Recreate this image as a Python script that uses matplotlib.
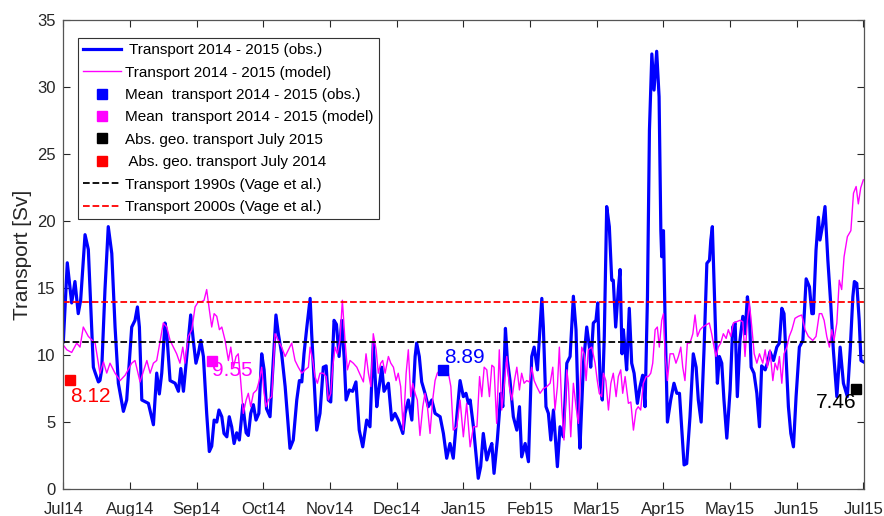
import numpy as np
import matplotlib
matplotlib.use('Agg')
import matplotlib.pyplot as plt

plt.rcParams['font.family'] = ['Liberation Sans', 'DejaVu Sans']

# month labels, one tick per month from Jul 2014 to Jul 2015
months = ['Jul14', 'Aug14', 'Sep14', 'Oct14', 'Nov14', 'Dec14', 'Jan15',
          'Feb15', 'Mar15', 'Apr15', 'May15', 'Jun15', 'Jul15']

# observed transport [Sv], day since 1 Jul 2014
obs_day = [0, 1.8, 3.8, 5.3, 6.8, 7.9, 9.9, 11.4, 13.7, 14.5, 16.0, 16.7, 17.5, 19.0, 20.5,
           22.1, 23.6, 25.1, 27.4, 28.9, 31.2, 32.7, 33.8, 34.7, 35.8, 38.8, 41.1, 42.6,
           43.8, 44.9, 46.4, 47.2, 48.7, 51.0, 52.5, 53.6, 54.8, 56.3, 58.1, 59.3, 60.5,
           61.6, 62.7, 63.9, 65.4, 66.6, 67.7, 68.8, 70.0, 71.0, 72.3, 73.3, 74.6, 75.7,
           76.8, 77.9, 79.1, 80.3, 81.9, 83.4, 84.4, 85.5, 86.7, 87.9, 89.2, 90.5, 91.6,
           92.7, 94.3, 97.0, 98.1, 99.6, 101.2, 103.4, 104.9, 106.5, 107.7, 108.8, 109.8,
           111.1, 112.6, 113.3, 114.1, 115.6, 117.1, 118.6, 119.9, 120.9, 122.0, 123.5,
           124.6, 125.8, 127.0, 128.1, 129.0, 130.5, 132.0, 133.5, 135.0, 136.6, 138.4,
           139.9, 141.4, 143.0, 143.7, 145.3, 146.3, 148.3, 149.8, 151.3, 152.8, 154.9,
           155.9, 157.4, 159.0, 160.5, 161.2, 162.4, 163.5, 165.0, 166.5, 168.1, 169.6,
           171.9, 173.4, 174.9, 176.4, 177.9, 179.5, 181.0, 182.5, 183.7, 184.8, 185.6,
           187.1, 189.3, 190.4, 191.6, 193.2, 194.4, 195.5, 196.5, 198.0, 199.6, 200.5,
           201.7, 202.6, 203.8, 205.3, 206.9, 208.1, 209.1, 210.7, 212.2, 213.7, 214.8,
           216.3, 218.3, 219.0, 220.2, 221.3, 222.4, 223.6, 225.4, 226.6, 228.1, 229.7,
           231.2, 232.7, 233.9, 235.0, 235.7, 237.3, 238.8, 240.0, 240.6, 241.8, 243.0,
           243.8, 244.9, 245.9, 246.8, 247.9, 249.1, 250.2, 250.9, 252.0, 253.2, 254.0,
           254.9, 255.5, 256.3, 257.0, 258.2, 259.3, 260.4, 261.9, 263.1, 264.3, 265.4,
           266.5, 267.4, 268.5, 269.5, 270.7, 271.8, 272.6, 273.0, 273.8, 274.5, 275.6,
           277.1, 278.6, 279.9, 281.1, 282.1, 283.2, 284.4, 285.9, 287.4, 288.7, 289.7,
           291.0, 292.3, 293.6, 294.8, 295.4, 296.1, 296.9, 297.7, 298.4, 299.3, 300.4,
           301.4, 302.7, 304.2, 305.4, 306.5, 307.5, 308.7, 310.0, 311.0, 312.1, 313.0,
           313.8, 315.1, 316.4, 317.6, 318.6, 320.2, 321.2, 322.4, 324.0, 325.5, 326.7,
           327.8, 328.8, 329.7, 330.8, 331.9, 333.1, 334.3, 335.8, 337.4, 338.9, 340.4,
           341.5, 342.2, 343.4, 344.5, 345.2, 346.3, 347.5, 348.8, 350.1, 351.3, 352.9,
           354.4, 355.9, 357.7, 359.0, 360.2, 360.9, 362.0, 363.1, 363.9, 365.0]
obs_sv = [11.0, 16.9, 13.9, 15.5, 13.1, 14.1, 19.0, 17.9, 9.1, 8.7, 8.0, 8.1, 8.9, 14.9, 19.6,
          17.6, 12.1, 7.9, 5.8, 6.65, 12.1, 12.6, 13.6, 12.1, 6.65, 6.4, 4.8, 8.66,
          7.1, 8.66, 12.4, 11.6, 8.1, 7.9, 7.3, 9.0, 7.3, 9.9, 13.0, 11.1, 9.4,
          10.1, 11.1, 9.9, 5.65, 2.8, 3.2, 5.15, 5.0, 5.9, 5.4, 4.15, 3.9, 5.4,
          4.65, 3.4, 4.2, 3.66, 6.3, 4.2, 4.0, 5.65, 6.3, 5.15, 5.65, 10.1, 8.9,
          6.0, 5.4, 13.0, 11.6, 10.1, 7.65, 3.04, 3.66, 6.65, 8.1, 8.0, 10.1,
          12.1, 14.24, 11.6, 9.1, 4.4, 5.65, 9.1, 9.2, 6.65, 6.5, 12.6,
          12.3, 9.9, 12.6, 9.9, 6.65, 7.4, 7.3, 8.0, 4.4, 3.15, 5.15,
          4.65, 10.9, 6.15, 7.15, 9.1, 7.3, 7.9, 5.15, 5.65, 5.15, 4.15,
          5.65, 6.65, 5.15, 9.9, 10.9, 9.9, 8.0, 7.15, 6.15, 6.65, 5.65,
          5.4, 4.15, 2.3, 3.4, 2.3, 5.4, 8.1, 6.9, 7.15, 6.4, 6.65,
          4.65, 0.8, 1.67, 4.15, 2.17, 2.9, 3.4, 1.17, 3.66, 7.15, 6.15,
          12.0, 9.6, 8.1, 5.4, 4.4, 6.15, 2.4, 3.4, 2.04, 9.9, 10.6,
          8.9, 14.24, 12.1, 6.15, 5.65, 3.66, 5.9, 1.67, 4.65, 3.9, 9.4,
          9.9, 14.4, 11.9, 5.4, 3.04, 9.4, 12.1, 10.6, 9.1, 12.4, 12.6,
          13.9, 8.1, 6.65, 11.4, 21.1, 19.6, 15.6, 15.6, 12.1, 14.9, 16.4,
          10.1, 11.9, 10.4, 8.9, 13.5, 9.4, 8.65, 6.4, 7.65, 8.5, 6.15,
          14.36, 26.8, 32.5, 29.8, 32.7, 29.3, 19.3, 17.35, 19.3, 12.9, 5.0,
          6.65, 7.9, 7.15, 7.15, 4.65, 1.8, 1.9, 5.4, 10.1, 9.1, 6.65,
          5.0, 10.4, 16.86, 17.1, 18.6, 19.6, 15.36, 11.1, 7.9, 9.9, 9.4,
          6.65, 3.8, 7.4, 12.1, 12.4, 6.9, 11.1, 12.9, 11.6, 14.36, 13.1,
          9.1, 8.65, 7.15, 4.65, 9.2, 8.9, 9.4, 10.25, 9.6, 10.6, 10.9,
          13.5, 13.1, 9.9, 6.15, 4.15, 3.15, 6.9, 10.6, 11.1, 15.7, 15.1,
          13.1, 13.1, 17.85, 20.3, 18.6, 19.6, 21.1, 17.1, 13.87, 10.4, 6.9,
          10.6, 7.9, 6.9, 10.4, 14.36, 15.5, 15.36, 12.6, 9.6, 9.5]

# model transport [Sv]
mod_day = [0, 1.6, 3.8, 6.1, 7.6, 9.1, 11.4, 14.5, 16.7, 18.3, 19.8, 21.3, 23.6, 25.9, 28.2,
           31.2, 32.7, 35.0, 38.1, 39.6, 41.1, 42.6, 44.1, 45.6, 47.2, 48.7, 50.2, 51.7,
           53.2, 54.5, 55.5, 57.0, 58.6, 60.1, 61.6, 63.1, 64.2, 65.4, 66.6, 67.7, 68.8,
           70.0, 71.2, 72.3, 73.8, 75.3, 76.4, 77.6, 78.8, 79.8, 80.9, 82.1, 83.4, 84.4,
           85.5, 86.7, 88.2, 89.4, 90.5, 91.6, 92.5, 93.5, 95.1, 96.6, 98.1, 99.6, 101.2,
           102.7, 104.2, 105.7, 107.2, 108.8, 110.3, 111.8, 112.6, 113.8, 114.8, 115.9,
           117.1, 118.6, 119.9, 120.9, 122.0, 122.9, 124.0, 125.0, 126.2, 127.3, 128.5,
           129.6, 130.8, 132.3, 133.9, 135.1, 136.9, 138.1, 139.2, 140.3, 141.4, 142.7,
           143.7, 144.8, 145.7, 146.8, 148.3, 149.4, 150.6, 151.8, 152.8, 153.9, 155.1,
           156.4, 157.4, 158.5, 159.4, 160.5, 161.5, 162.7, 164.0, 165.0, 166.1, 167.3,
           168.5, 169.6, 170.6, 171.9, 173.4, 175.2, 176.8, 177.9, 179.5, 181.0, 182.5,
           184.0, 185.6, 187.1, 188.7, 189.9, 190.9, 192.0, 193.2, 194.4, 195.5, 196.5,
           197.7, 198.9, 200.0, 201.1, 202.3, 203.5, 204.6, 205.8, 206.9, 208.1, 209.1,
           210.2, 211.4, 212.6, 213.7, 214.8, 216.0, 217.5, 219.0, 220.6, 222.1, 223.3,
           224.3, 225.4, 226.3, 227.4, 228.4, 229.7, 230.4, 231.5, 232.7, 233.9, 235.0,
           236.5, 237.6, 238.5, 239.5, 241.1, 242.6, 243.6, 244.5, 245.6, 246.4, 247.5,
           248.7, 249.8, 250.9, 252.2, 253.2, 254.3, 255.2, 256.3, 257.8, 258.9, 260.1,
           261.3, 262.3, 263.4, 264.6, 265.9, 266.9, 268.0, 268.9, 270.0, 271.0, 271.9,
           273.0, 273.8, 274.5, 275.6, 276.8, 278.3, 279.5, 280.6, 281.7, 282.6, 283.6,
           284.7, 285.9, 287.2, 288.2, 289.3, 290.5, 291.7, 293.2, 294.7, 295.8, 296.9,
           297.8, 298.8, 299.9, 301.1, 302.4, 303.4, 304.5, 305.7, 307.2, 308.7, 310.0,
           311.0, 312.1, 313.0, 314.1, 315.2, 316.4, 317.6, 319.1, 320.2, 321.2, 322.4,
           323.7, 324.7, 325.8, 326.7, 327.8, 328.8, 330.1, 331.2, 332.4, 333.8, 335.3,
           336.9, 338.4, 339.9, 341.9, 343.4, 344.9, 346.0, 347.1, 348.3, 349.5, 350.6,
           351.6, 352.9, 354.0, 355.1, 356.2, 357.7, 359.3, 360.5, 361.7, 362.7, 363.8,
           365.0]
mod_sv = [10.75, 10.4, 10.2, 10.9, 10.6, 12.1, 11.4, 10.9, 8.65, 9.5, 8.66, 9.4, 8.65, 8.1, 8.5,
          9.4, 9.6, 8.0, 9.6, 8.65, 9.4, 9.6, 11.0, 12.4, 12.1, 11.1, 10.6, 10.1,
          9.4, 10.6, 9.4, 11.4, 11.9, 13.6, 14.0, 14.0, 14.1, 14.9, 13.4, 12.1, 13.1,
          12.9, 11.9, 12.1, 11.1, 9.6, 10.6, 9.1, 9.9, 10.1, 8.1, 5.65, 6.65, 7.15,
          6.15, 7.15, 7.4, 8.1, 9.1, 7.15, 6.15, 6.65, 6.9, 11.6, 11.1, 10.6, 9.9,
          10.4, 10.9, 9.6, 9.1, 8.65, 8.9, 9.1, 10.6, 9.6, 8.4, 7.9,
          8.65, 8.65, 8.4, 6.65, 7.15, 9.1, 10.6, 10.1, 11.1, 14.1, 11.1,
          8.9, 9.6, 9.4, 9.1, 8.65, 8.0, 10.1, 8.65, 7.65, 11.6, 10.4,
          8.65, 9.4, 9.6, 8.65, 9.9, 9.4, 9.1, 8.1, 8.65, 7.65, 4.4,
          8.65, 10.4, 6.9, 7.9, 7.15, 6.65, 4.0, 6.15, 7.15, 6.15, 4.15,
          6.65, 8.1, 8.65, 8.9, 9.1, 9.1, 7.65, 4.4, 4.65, 6.65, 3.9,
          6.4, 3.15, 4.65, 4.65, 8.4, 6.9, 9.1, 8.9, 6.9, 9.25, 9.1,
          4.9, 10.4, 5.9, 7.65, 9.9, 7.65, 6.65, 8.1, 9.1, 7.4, 8.65,
          7.9, 8.1, 8.0, 9.1, 8.1, 7.65, 7.15, 7.5, 7.65, 7.9, 9.1,
          5.9, 7.65, 10.6, 6.15, 3.66, 8.9, 7.9, 3.9, 7.9, 6.15, 4.9,
          10.6, 10.1, 8.1, 10.4, 10.6, 9.4, 8.1, 7.15, 6.9, 8.65, 8.1,
          5.9, 7.9, 8.65, 6.9, 8.4, 8.9, 7.15, 8.4, 6.4, 6.5, 4.4,
          5.9, 6.15, 5.9, 7.9, 8.4, 8.4, 8.65, 9.4, 11.9, 12.1, 10.6,
          12.6, 13.1, 10.1, 8.1, 10.1, 10.1, 9.4, 9.9, 10.6, 9.1, 8.1,
          10.9, 10.9, 11.6, 13.0, 11.4, 11.9, 12.1, 12.25, 12.4, 11.6, 10.6,
          9.9, 10.6, 10.9, 11.6, 11.25, 11.9, 11.4, 12.4, 12.5, 12.6, 12.5,
          9.9, 12.6, 13.9, 12.1, 10.1, 9.4, 10.1, 9.4, 10.4, 9.1, 10.4,
          8.1, 9.4, 8.9, 9.9, 7.9, 10.1, 10.6, 11.4, 11.9, 12.75, 12.9,
          13.0, 11.9, 11.4, 11.1, 11.4, 13.1, 13.1, 12.6, 11.4, 10.6, 11.9,
          11.1, 12.4, 15.6, 14.9, 17.35, 18.85, 19.3, 22.1, 22.6, 21.3, 22.5,
          23.1]

# single values: annual means, absolute geostrophic estimates, Vage et al. levels
mean_obs_day, mean_obs = 173.0, 8.89
mean_mod_day, mean_mod = 67.7, 9.55
geo15_day, geo15 = 361.7, 7.46
geo14_day, geo14 = 2.9, 8.12
vage_1990s = 11.0
vage_2000s = 14.0

fig = plt.figure(figsize=(8.84, 5.16), dpi=100)
ax = fig.add_axes([0.0709, 0.0523, 0.9065, 0.908])

ax.plot(obs_day, obs_sv, color='#0000ff', lw=2.3, label=' Transport 2014 - 2015 (obs.)')
ax.plot(mod_day, mod_sv, color='#ff00ff', lw=1.0, label='Transport 2014 - 2015 (model)')
ax.plot(mean_obs_day, mean_obs, 's', color='#0000ff', ms=7.5,
        label='Mean  transport 2014 - 2015 (obs.)')
ax.plot(mean_mod_day, mean_mod, 's', color='#ff00ff', ms=7.5,
        label='Mean  transport 2014 - 2015 (model)')
ax.plot(geo15_day, geo15, 's', color='k', ms=7.5, label='Abs. geo. transport July 2015')
ax.plot(geo14_day, geo14, 's', color='#ff0000', ms=7.5, label=' Abs. geo. transport July 2014')
ax.axhline(vage_1990s, color='k', ls='--', lw=1.3, label='Transport 1990s (Vage et al.)')
ax.axhline(vage_2000s, color='#ff0000', ls='--', lw=1.3, label='Transport 2000s (Vage et al.)')

# value labels next to the squares
ax.annotate('%.2f' % geo14, (geo14_day, geo14), xytext=(0, -11.5), textcoords='offset points',
            ha='left', va='center', fontsize=15, color='#ff0000')
ax.annotate('%.2f' % mean_mod, (mean_mod_day, mean_mod), xytext=(0, -6.5),
            textcoords='offset points', ha='left', va='center', fontsize=15, color='#ff00ff')
ax.annotate('%.2f' % mean_obs, (mean_obs_day, mean_obs), xytext=(1, 9),
            textcoords='offset points', ha='left', va='center', fontsize=15, color='#0000ff')
ax.annotate('%.2f' % geo15, (geo15_day, geo15), xytext=(0, -9.6), textcoords='offset points',
            ha='right', va='center', fontsize=15, color='k')

ax.set_xlim(-0.3, 365.3)
ax.set_ylim(0, 35)
ax.set_xticks(np.linspace(0, 365, 13))
ax.set_xticklabels(months)
ax.set_yticks(np.arange(0, 36, 5))
ax.set_ylabel('Transport [Sv]', fontsize=15, color='#262626', labelpad=4)

ax.tick_params(direction='in', top=True, right=True, length=5, width=0.8,
               labelsize=12, colors='#262626', pad=5)
ax.tick_params(axis='x', pad=9)
for s in ax.spines.values():
    s.set_color('#555555')
    s.set_linewidth(0.9)

leg = ax.legend(loc='upper left', bbox_to_anchor=(0.019, 0.963), fontsize=11,
                fancybox=False, framealpha=1, edgecolor='#333333', handlelength=2.5,
                handletextpad=0.25, labelspacing=0.55, borderpad=0.35, borderaxespad=0)
leg.get_frame().set_linewidth(0.8)

fig.savefig('out.png', dpi=100)
